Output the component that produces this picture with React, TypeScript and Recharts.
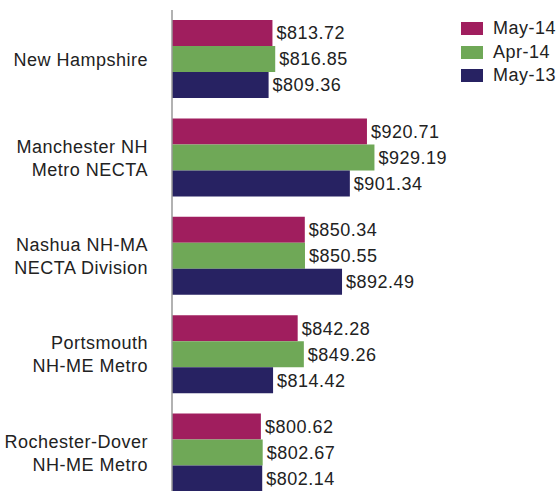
import React from 'react';
import { BarChart, Bar, XAxis, YAxis, LabelList } from 'recharts';

const areas = [
  'New Hampshire',
  'Manchester NH\nMetro NECTA',
  'Nashua NH-MA\nNECTA Division',
  'Portsmouth\nNH-ME Metro',
  'Rochester-Dover\nNH-ME Metro',
];
const may14 = [813.72, 920.71, 850.34, 842.28, 800.62];
const apr14 = [816.85, 929.19, 850.55, 849.26, 802.67];
const may13 = [809.36, 901.34, 892.49, 814.42, 802.14];

const series = [
  { key: 'may14', name: 'May-14', color: '#A01E5E' },
  { key: 'apr14', name: 'Apr-14', color: '#6FA857' },
  { key: 'may13', name: 'May-13', color: '#272262' },
];

const data = areas.map((area, i) => ({
  area,
  may14: may14[i],
  apr14: apr14[i],
  may13: may13[i],
}));

const FONT = '"Liberation Sans", Arial, sans-serif';

const AreaTick = (props: any) => {
  const { x, y, payload } = props;
  const lines = String(payload.value).split('\n');
  const lh = 23;
  const first = y - ((lines.length - 1) * lh) / 2 + 6.5;
  return (
    <text x={x} y={first} textAnchor="end" fill="#222" fontSize={18} fontFamily={FONT} letterSpacing={0.5}>
      {lines.map((l, i) => (
        <tspan key={i} x={x} y={first + i * lh}>
          {l}
        </tspan>
      ))}
    </text>
  );
};

// legend sits outside the plot so it doesn't eat into the bar widths
const SideLegend = () => (
  <div style={{ position: 'absolute', left: 461, top: 17, fontFamily: FONT, fontSize: 18, color: '#222', letterSpacing: 0.5 }}>
    {series.map((s) => (
      <div key={s.key} style={{ display: 'flex', alignItems: 'center', height: 23.5 }}>
        <span style={{ width: 22, height: 13, background: s.color, marginRight: 10 }} />
        <span>{s.name}</span>
      </div>
    ))}
  </div>
);

const money = (v: any) => '$' + Number(v).toFixed(2);

export default function App() {
  return (
    <div style={{ position: 'absolute', left: 0, top: 0, width: 559, height: 491, overflow: 'hidden', background: '#fff' }}>
      <BarChart
        width={559}
        height={502}
        data={data}
        layout="vertical"
        margin={{ top: 10, right: 122, left: 0, bottom: 0 }}
        barGap={0}
      >
        <XAxis type="number" domain={[700, 1000]} hide allowDataOverflow />
        <YAxis
          type="category"
          dataKey="area"
          width={172}
          axisLine={{ stroke: '#999', strokeWidth: 1.5 }}
          tickLine={false}
          tickSize={0}
          tick={<AreaTick />}
          tickMargin={24}
          interval={0}
        />
        {series.map((s) => (
          <Bar key={s.key} dataKey={s.key} name={s.name} fill={s.color} barSize={26} isAnimationActive={false}>
            <LabelList
              dataKey={s.key}
              position="right"
              offset={4}
              formatter={money}
              style={{ fill: '#222', fontSize: 18, fontFamily: FONT, letterSpacing: 0.5 }}
            />
          </Bar>
        ))}
      </BarChart>
      <SideLegend />
    </div>
  );
}
